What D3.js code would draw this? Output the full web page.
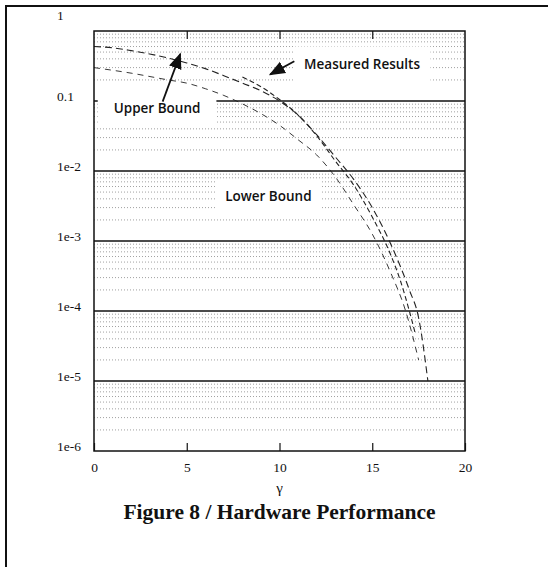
<!DOCTYPE html>
<html>
<head>
<meta charset="utf-8">
<script src="https://cdn.jsdelivr.net/npm/d3@7"></script>
<style>
  body { margin: 0; background: #fff; }
  svg { display: block; }
</style>
</head>
<body>
<div class="chart"></div>
<script>
// x axis: gamma, y axis: probability (log)
const gammaTicks = [0, 5, 10, 15, 20];
const decadeValues = [1, 0.1, 1e-2, 1e-3, 1e-4, 1e-5, 1e-6];
const decadeLabels = ["1", "0.1", "1e-2", "1e-3", "1e-4", "1e-5", "1e-6"];

// Upper Bound curve
const upperGamma = [0, 1, 2, 3, 4, 5, 6, 7, 8, 9, 10, 11, 12, 13, 14, 15, 16, 17, 17.5, 18];
const upperValue = [0.60, 0.575, 0.525, 0.47, 0.41, 0.35, 0.29, 0.23, 0.18, 0.14, 0.10, 0.063, 0.033, 0.016, 7.6e-3, 3.0e-3, 9e-4, 2e-4, 8e-5, 1e-5];

// Lower Bound curve
const lowerGamma = [0, 2, 4, 5, 6, 7, 8, 9, 10, 11, 12, 13, 14, 15, 16, 16.8, 17.5];
const lowerValue = [0.30, 0.25, 0.20, 0.18, 0.15, 0.12, 0.091, 0.066, 0.045, 0.028, 0.017, 8.3e-3, 3.3e-3, 1.26e-3, 3.5e-4, 1e-4, 2e-5];

// Measured Results curve
const measGamma = [8, 9, 10, 11, 12, 13, 14, 15, 16, 16.5, 17, 17.3];
const measValue = [0.22, 0.16, 0.105, 0.063, 0.032, 0.014, 6.3e-3, 2.2e-3, 6.3e-4, 2.8e-4, 1e-4, 5e-5];

const W = 548, H = 567;
const plot = { left: 94, right: 465, top: 31, bottom: 451 };

const svg = d3.select(".chart")
  .append("svg")
  .attr("width", W)
  .attr("height", H);

// outer frame of the scanned page
svg.append("line").attr("x1", 5).attr("y1", 6).attr("x2", W).attr("y2", 6)
  .attr("stroke", "#111").attr("stroke-width", 2);
svg.append("line").attr("x1", 6).attr("y1", 6).attr("x2", 6).attr("y2", H)
  .attr("stroke", "#111").attr("stroke-width", 2);

const x = d3.scaleLinear().domain([0, 20]).range([plot.left, plot.right]);
const y = d3.scaleLog().domain([1e-6, 1]).range([plot.bottom, plot.top]);

// minor grid (dotted)
const minor = y.ticks().filter(v => Math.abs(Math.log10(v) - Math.round(Math.log10(v))) > 1e-6);
svg.append("g")
  .selectAll("line")
  .data(minor)
  .join("line")
  .attr("x1", plot.left).attr("x2", plot.right)
  .attr("y1", d => y(d)).attr("y2", d => y(d))
  .attr("stroke", "#888")
  .attr("stroke-width", 0.8)
  .attr("stroke-dasharray", "1,2");

// decade lines
svg.append("g")
  .selectAll("line")
  .data(decadeValues.slice(1, -1))
  .join("line")
  .attr("x1", plot.left).attr("x2", plot.right)
  .attr("y1", d => y(d)).attr("y2", d => y(d))
  .attr("stroke", "#111")
  .attr("stroke-width", 1.5);

// annotation boxes (white, hide the grid)
const notes = [
  { text: "Upper Bound", g: 3.4, v: 0.08, padX: 16, padY: 8 },
  { text: "Measured Results", g: 14.45, v: 0.33, padX: 10, padY: 9 },
  { text: "Lower Bound", g: 9.4, v: 4.3e-3, padX: 10, padY: 8 }
];
const boxG = svg.append("g");
const noteText = svg.append("g")
  .selectAll("text")
  .data(notes)
  .join("text")
  .attr("x", d => x(d.g))
  .attr("y", d => y(d.v))
  .attr("dy", "0.35em")
  .attr("text-anchor", "middle")
  .style("font-family", "'Open Sans', sans-serif")
  .style("font-size", "13.5px")
  .style("font-weight", 600)
  .style("fill", "#111")
  .text(d => d.text);
noteText.each(function(d) {
  const b = this.getBBox();
  boxG.append("rect")
    .attr("x", b.x - d.padX).attr("y", b.y - d.padY)
    .attr("width", b.width + 2 * d.padX).attr("height", b.height + 2 * d.padY)
    .attr("fill", "#fff");
});

// curves
const line = d3.line()
  .x(d => x(d[0]))
  .y(d => y(d[1]))
  .curve(d3.curveMonotoneX);

const curves = [
  { g: upperGamma, v: upperValue, dash: "7,4", w: 1.1 },
  { g: lowerGamma, v: lowerValue, dash: "6,5", w: 0.9 },
  { g: measGamma, v: measValue, dash: "5,3", w: 1.1 }
];
svg.append("g")
  .selectAll("path")
  .data(curves)
  .join("path")
  .attr("d", d => line(d3.zip(d.g, d.v)))
  .attr("fill", "none")
  .attr("stroke", "#222")
  .attr("stroke-width", d => d.w)
  .attr("stroke-dasharray", d => d.dash);

// arrows
svg.append("defs").append("marker")
  .attr("id", "head")
  .attr("viewBox", "0 0 10 10")
  .attr("refX", 9).attr("refY", 5)
  .attr("markerWidth", 9).attr("markerHeight", 9)
  .attr("orient", "auto")
  .append("path")
  .attr("d", "M0,1 L10,5 L0,9 Z")
  .attr("fill", "#111");

const arrows = [
  { g0: 3.7, v0: 0.098, g1: 4.65, v1: 0.47 },
  { g0: 10.8, v0: 0.37, g1: 9.5, v1: 0.24 }
];
svg.append("g")
  .selectAll("line")
  .data(arrows)
  .join("line")
  .attr("x1", d => x(d.g0)).attr("y1", d => y(d.v0))
  .attr("x2", d => x(d.g1)).attr("y2", d => y(d.v1))
  .attr("stroke", "#111")
  .attr("stroke-width", 1.8)
  .attr("marker-end", "url(#head)");

noteText.raise();

// frame
svg.append("rect")
  .attr("x", plot.left).attr("y", plot.top)
  .attr("width", plot.right - plot.left)
  .attr("height", plot.bottom - plot.top)
  .attr("fill", "none")
  .attr("stroke", "#111")
  .attr("stroke-width", 1.5);

// x axis, ticks inside
const xAxis = svg.append("g")
  .attr("transform", `translate(0,${plot.bottom})`)
  .call(d3.axisBottom(x).tickValues(gammaTicks).tickSize(-8).tickPadding(11).tickFormat(d3.format("d")));
xAxis.select(".domain").remove();
xAxis.selectAll("text")
  .style("font-family", "'Liberation Serif', serif")
  .style("font-size", "13.5px")
  .style("fill", "#111");
xAxis.selectAll("line").attr("stroke", "#111").attr("stroke-width", 1.2);

const xTop = svg.append("g")
  .attr("transform", `translate(0,${plot.top})`)
  .call(d3.axisTop(x).tickValues(gammaTicks.slice(1, -1)).tickSize(-8).tickFormat(""));
xTop.select(".domain").remove();
xTop.selectAll("line").attr("stroke", "#111").attr("stroke-width", 1.2);

// y labels
svg.append("g")
  .selectAll("text")
  .data(decadeValues)
  .join("text")
  .attr("x", 57)
  .attr("y", d => y(d) - (d === 1 ? 16 : 5))
  .attr("dy", "0.35em")
  .style("font-family", "'Liberation Serif', serif")
  .style("font-size", "13.5px")
  .style("fill", "#111")
  .text((d, i) => decadeLabels[i]);

// axis title + caption
svg.append("text")
  .attr("x", x(10)).attr("y", 493)
  .attr("text-anchor", "middle")
  .style("font-family", "'Liberation Serif', serif")
  .style("font-size", "15px")
  .style("fill", "#111")
  .text("γ");

svg.append("text")
  .attr("x", (plot.left + plot.right) / 2).attr("y", 519)
  .attr("text-anchor", "middle")
  .style("font-family", "'Liberation Serif', serif")
  .style("font-size", "21.5px")
  .style("font-weight", "bold")
  .style("fill", "#111")
  .text("Figure 8 / Hardware Performance");
</script>
</body>
</html>
